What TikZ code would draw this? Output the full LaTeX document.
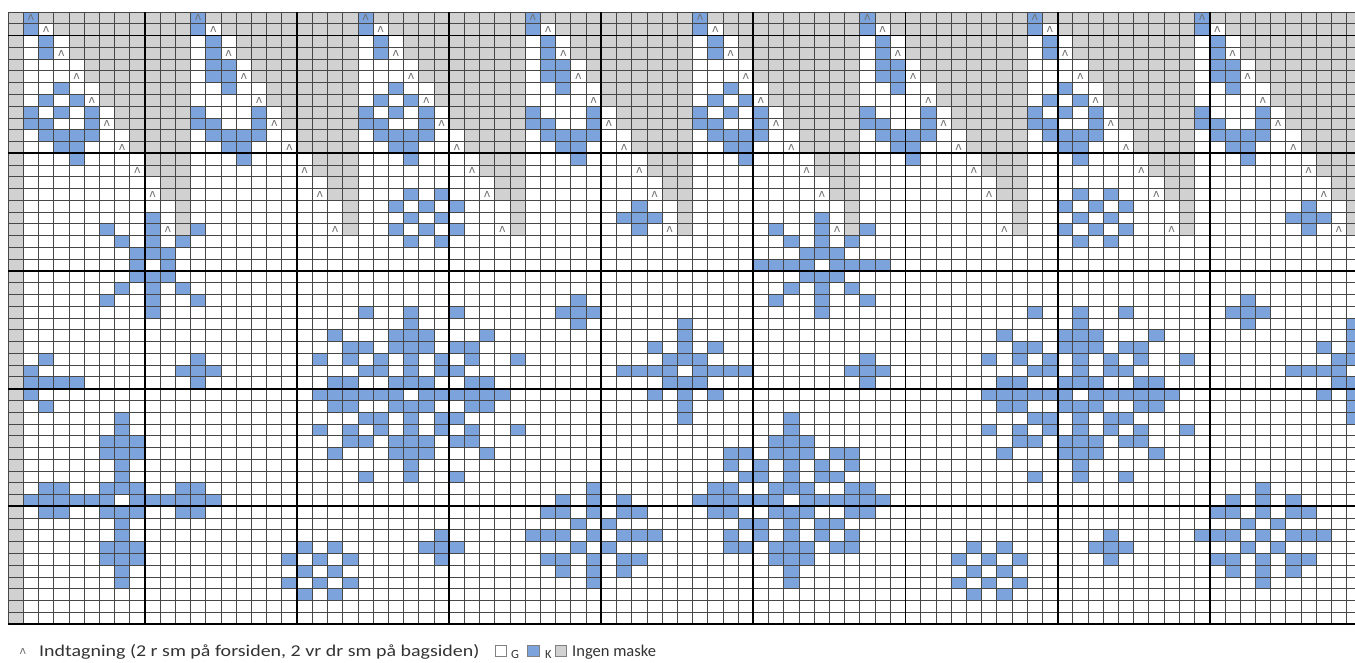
\documentclass[tikz,border=0pt]{standalone}
\usepackage{graphicx}
\usepackage{fontspec}
\newfontfamily\legfont{Carlito}
\newfontfamily\symfont{DejaVu Sans}
\definecolor{kblue}{RGB}{124,163,219}
\definecolor{kgray}{RGB}{209,209,209}
\def\CW{15.21}\def\RH{11.77}\def\XO{8.1}\def\YO{12}
\newcommand\kc[3]{\fill[#3] ({\XO+\CW*(#1)},{\YO+\RH*(#2)}) rectangle ++(\CW,\RH);}
\newcommand\kr[5]{\fill[#5] ({\XO+\CW*(#1)},{\YO+\RH*(#2)}) rectangle ({\XO+\CW*(#3+1)},{\YO+\RH*(#4+1)});}
\tikzset{
  thinline/.style={line width=0.8pt, draw=black!72},
  thickline/.style={line width=1.8pt, draw=black},
  caret/.style={inner sep=0pt, text=black!55, font=\symfont\fontsize{11}{11}\selectfont},
  legtext/.style={inner sep=0pt, anchor=base west, text=black!80, font=\legfont\fontsize{16.5}{20}\selectfont},
  legsmall/.style={inner sep=0pt, anchor=base west, text=black!80, font=\legfont\fontsize{12.5}{15}\selectfont},
  legbox/.style={draw=black!50, line width=0.8pt, minimum width=11.5pt, minimum height=11.5pt, inner sep=0pt}
}
\begin{document}
\begin{tikzpicture}[x=1pt,y=-1pt]
\useasboundingbox (0,0) rectangle (1355,662);
\fill[white] (0,0) rectangle (1355,662);
\begin{scope}
\clip (0,0) rectangle (1355,662);
% edge column
\kr{0}{0}{0}{51}{kgray}
% gray "no stitch" areas of the yoke
\foreach \s in {1,12,23,34,45,56,67,78}{
  \foreach \rr/\ll in {0/0,1/1,2/2,3/2,4/3,5/3,6/4,7/4,8/5,9/5,10/6,11/6,12/7,13/7,14/8,15/8,16/9,17/9,18/9}{
    \kr{\s+\ll+1}{\rr}{\s+10}{\rr}{kgray}
  }
}
% ring motifs
\foreach \s in {1,23,45,67}{
  \foreach \kk/\rr in {0/0,0/1,1/2,1/3,2/6,1/7,3/7,0/8,2/8,4/8,0/9,1/9,4/9,1/10,2/10,3/10,4/10,2/11,3/11,3/12}{
    \kc{\s+\kk}{\rr}{kblue}
  }
}
% U motifs
\foreach \s in {12,34,56,78}{
  \foreach \kk/\rr in {0/0,0/1,1/2,1/3,1/4,2/4,1/5,2/5,2/6,0/8,4/8,0/9,1/9,4/9,1/10,2/10,3/10,4/10,2/11,3/11,3/12}{
    \kc{\s+\kk}{\rr}{kblue}
  }
}
% motifs repeated in both halves
\foreach \o in {0,44}{
  % small checker diamond (upper)
  \foreach \cc/\rr in {26/15,28/15,25/16,27/16,29/16,26/17,28/17,25/18,27/18,29/18,26/19,28/19}{\kc{\cc+\o}{\rr}{kblue}}
  % small pluses
  \foreach \cc/\rr in {41/16,40/17,41/17,42/17,41/18, 12/29,11/30,12/30,13/30,12/31, 37/24,36/25,37/25,38/25,37/26, 28/44,27/45,28/45,29/45,28/46}{\kc{\cc+\o}{\rr}{kblue}}
  % big snowflake
  \foreach \cc/\rr in {23/25,26/25,29/25, 26/26,
    21/27,25/27,26/27,27/27,31/27,
    22/28,23/28,25/28,26/28,27/28,29/28,30/28,
    20/29,22/29,24/29,26/29,28/29,30/29,33/29,
    23/30,24/30,26/30,28/30,29/30,
    21/31,22/31,25/31,26/31,27/31,30/31,31/31,
    20/32,21/32,22/32,23/32,24/32,25/32,27/32,28/32,29/32,30/32,31/32,32/32,
    21/33,22/33,25/33,26/33,27/33,30/33,31/33,
    23/34,24/34,26/34,28/34,29/34,
    20/35,22/35,24/35,26/35,28/35,30/35,33/35,
    22/36,23/36,25/36,26/36,27/36,29/36,30/36,
    21/37,25/37,26/37,27/37,31/37,
    26/38, 23/39,26/39,29/39}{\kc{\cc+\o}{\rr}{kblue}}
  % small checker diamond (lower)
  \foreach \cc/\rr in {19/45,21/45,18/46,20/46,22/46,19/47,21/47,18/48,20/48,22/48,19/49,21/49}{\kc{\cc+\o}{\rr}{kblue}}
  % checker cross
  \foreach \cc/\rr in {38/40,38/41,38/42,38/44,38/46,38/47,38/48,36/41,40/41,35/42,36/42,40/42,41/42,
    37/43,39/43,37/45,39/45,34/44,35/44,36/44,40/44,41/44,42/44,35/46,36/46,40/46,41/46,36/47,40/47}{\kc{\cc+\o}{\rr}{kblue}}
  % star on the seam
  \foreach \cc/\rr in {44/26,44/27,44/28,44/29,44/31,44/32,44/33,44/34,43/29,43/31,45/29,45/31,
    42/28,42/32,46/28,46/32,40/30,41/30,42/30,43/30,45/30,46/30,47/30,48/30}{\kc{\cc+\o}{\rr}{kblue}}
}
% asterisk (both halves), with bar in the second
\foreach \o in {0,44}{
  \foreach \cc/\rr in {9/17,9/18,9/19,9/20,9/22,9/23,9/24,9/25,8/20,10/20,8/21,10/21,8/22,10/22,
    7/19,11/19,6/18,12/18,7/23,11/23,6/24,12/24}{\kc{\cc+\o}{\rr}{kblue}}
}
\kr{49}{21}{51}{21}{kblue}
\kr{55}{21}{57}{21}{kblue}
% left edge star
\foreach \cc/\rr in {1/30,1/31,1/32,2/29,2/31,2/33,3/31,4/31}{\kc{\cc}{\rr}{kblue}}
% big cross (first half)
\kr{7}{34}{7}{40}{kblue}
\kr{7}{42}{7}{48}{kblue}
\kr{1}{41}{6}{41}{kblue}
\kr{8}{41}{13}{41}{kblue}
\kr{6}{40}{8}{40}{kblue}
\kr{6}{42}{8}{42}{kblue}
\kr{6}{36}{8}{37}{kblue}
\kr{6}{45}{8}{46}{kblue}
\kr{2}{40}{3}{42}{kblue}
\kr{11}{40}{12}{42}{kblue}
% big diamond snowflake (second half)
\kr{51}{34}{51}{40}{kblue}
\kr{51}{42}{51}{48}{kblue}
\kr{45}{41}{50}{41}{kblue}
\kr{52}{41}{57}{41}{kblue}
\kr{50}{40}{52}{40}{kblue}
\kr{50}{42}{52}{42}{kblue}
\kr{50}{36}{52}{37}{kblue}
\kr{50}{45}{52}{46}{kblue}
\kr{46}{40}{47}{42}{kblue}
\kr{55}{40}{56}{42}{kblue}
\foreach \cc/\rr in {47/37,48/37,47/38,49/38,48/39,49/39, 55/37,54/37,55/38,53/38,54/39,53/39,
  47/45,48/45,47/44,49/44,48/43,49/43, 55/45,54/45,55/44,53/44,54/43,53/43}{\kc{\cc}{\rr}{kblue}}
% decrease symbols
\foreach \s in {1,12,23,34,45,56,67,78}{
  \foreach \kk/\rr in {0/0,1/1,2/3,3/5,4/7,5/9,6/11,7/13,8/15,9/18}{
    \node[caret] (car-\s-\kk) at ({\XO+\CW*(\s+\kk+0.5)},{\YO+\RH*(\rr+0.5)}) {ʌ};
  }
}
% grid
\foreach \i in {0,...,88}{\draw[thinline] ({\XO+\CW*\i},\YO) -- ({\XO+\CW*\i},{\YO+\RH*52});}
\foreach \j in {0,...,52}{\draw[thinline] (\XO,{\YO+\RH*\j}) -- (1356,{\YO+\RH*\j});}
\foreach \i in {9,19,...,79}{\draw[thickline] ({\XO+\CW*\i},\YO) -- ({\XO+\CW*\i},{\YO+\RH*52});}
\foreach \j in {2,12,22,32,42,52}{\draw[thickline] (\XO,{\YO+\RH*\j}) -- (1356,{\YO+\RH*\j});}
\end{scope}
% legend
\node[caret] (legcar) at (23,651) {ʌ};
\node[legtext] (legt) at (39,656.5) {\scalebox{1.21}[1]{Indtagning (2 r sm på forsiden, 2 vr dr sm på bagsiden)}};
\node[legbox, fill=white] (boxG) at (501,651) {};
\node[legsmall] (txtG) at (511,658) {G};
\node[legbox, fill=kblue] (boxK) at (533.5,651) {};
\node[legsmall] (txtK) at (545,658) {K};
\node[legbox, fill=kgray] (boxI) at (561,651) {};
\node[legtext] (txtI) at (572,656.5) {Ingen maske};
\end{tikzpicture}
\end{document}
